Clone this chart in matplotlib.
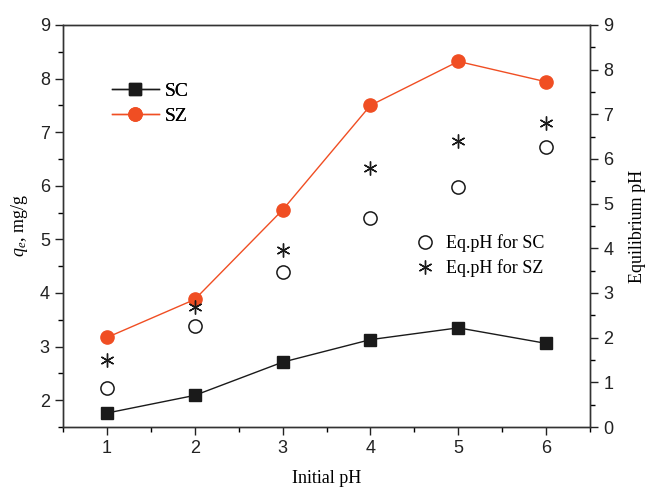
import numpy as np
import matplotlib.pyplot as plt
from matplotlib.lines import Line2D
from matplotlib.ticker import MultipleLocator

plt.rcParams['font.family'] = 'Liberation Sans'
plt.rcParams['mathtext.fontset'] = 'custom'
plt.rcParams['mathtext.rm'] = 'Liberation Serif'
plt.rcParams['mathtext.it'] = 'Liberation Serif:italic'

init_ph = [1, 2, 3, 4, 5, 6]
qe_sc = [1.76, 2.09, 2.71, 3.13, 3.35, 3.06]
qe_sz = [3.17, 3.88, 5.55, 7.50, 8.32, 7.94]
eq_ph_sc = [0.87, 2.26, 3.47, 4.68, 5.38, 6.27]
eq_ph_sz = [1.50, 2.68, 3.97, 5.80, 6.40, 6.81]

orange = '#f04e23'
serif = 'Liberation Serif'

fig = plt.figure(figsize=(6.45, 4.87), dpi=100)
ax = fig.add_axes([0.0977, 0.1232, 0.8171, 0.8255])
ax2 = ax.twinx()

ax.plot(init_ph, qe_sc, '-', color='#1a1a1a', lw=1, marker='s', ms=9, label='SC')
ax.plot(init_ph, qe_sz, '-', color=orange, lw=1, marker='o', ms=9.5, label='SZ')

ax2.plot(init_ph, eq_ph_sc, 'o', mfc='none', mec='#1a1a1a', mew=1.1, ms=9.5)
ax2.plot(init_ph, eq_ph_sz, ls='none', marker=(6, 2, 0), color='#1a1a1a', mew=1.0, ms=10)

ax.set_xlim(0.5, 6.5)
ax.set_ylim(1.5, 9)
ax2.set_ylim(0, 9)

ax.xaxis.set_major_locator(MultipleLocator(1))
ax.xaxis.set_minor_locator(MultipleLocator(0.5))
ax.yaxis.set_major_locator(MultipleLocator(1))
ax.yaxis.set_minor_locator(MultipleLocator(0.5))
ax2.yaxis.set_major_locator(MultipleLocator(1))
ax2.yaxis.set_minor_locator(MultipleLocator(0.5))

for a in (ax, ax2):
    a.tick_params(which='major', direction='out', length=6, width=1, labelsize=13, colors='#222222')
    a.tick_params(which='minor', direction='out', length=3.5, width=1)
    for s in a.spines.values():
        s.set_linewidth(1)
        s.set_color('#333333')
ax.tick_params(axis='x', which='both', top=False)

ax.set_xlabel('Initial pH', fontfamily=serif, fontsize=13, labelpad=9)
ax.set_ylabel(r'$q_e$, mg/g', fontfamily=serif, fontsize=13, labelpad=7)
ax2.set_ylabel('Equilibrium pH', fontfamily=serif, fontsize=13, labelpad=11)

leg1 = ax.legend(loc='upper left', bbox_to_anchor=(0.06, 0.9), frameon=False,
                 prop={'family': serif, 'size': 14}, handlelength=2.4,
                 handletextpad=0.3, labelspacing=0.35)
ax.add_artist(leg1)

h2 = [Line2D([], [], ls='none', marker='o', mfc='none', mec='#1a1a1a', mew=1.1, ms=9.5),
      Line2D([], [], ls='none', marker=(6, 2, 0), color='#1a1a1a', mew=1.0, ms=10)]
ax2.legend(h2, ['Eq.pH for SC', 'Eq.pH for SZ'], loc='upper left',
           bbox_to_anchor=(0.635, 0.52), frameon=False,
           prop={'family': serif, 'size': 13}, handlelength=1.2,
           handletextpad=0.6, labelspacing=0.4)

fig.savefig('out.png', dpi=100)
